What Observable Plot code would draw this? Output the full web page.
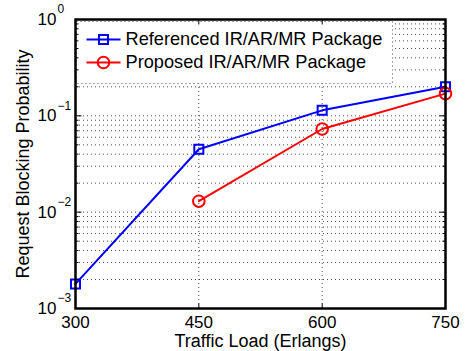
<!DOCTYPE html>
<html><head><meta charset="utf-8">
<script src="https://cdn.jsdelivr.net/npm/d3@7"></script>
<script src="https://cdn.jsdelivr.net/npm/@observablehq/plot@0.6"></script>
<style>body{margin:0;background:#fff;}</style>
</head><body><div id="chart"></div>
<script>
const loads = [300, 450, 600, 750];
const referenced = [0.0018, 0.045, 0.114, 0.20];
const proposedLoads = [450, 600, 750];
const proposed = [0.013, 0.073, 0.17];
const xTicks = [300, 450, 600, 750];
const xGrid = [450, 600];
const yMajor = [1e-3, 1e-2, 1e-1, 1];
const yExponents = ["\u22123", "\u22122", "\u22121", "0"];
const seriesNames = ["Referenced IR/AR/MR Package", "Proposed IR/AR/MR Package"];
const colors = ["#0000ff", "#ff0000"];
const symbols = ["square", "circle"];
const symbolR = [5.1, 5.8];
const xLabel = "Traffic Load (Erlangs)";
const yLabel = "Request Blocking Probability";

const refData = loads.map((x, i) => ({x, y: referenced[i]}));
const propData = proposedLoads.map((x, i) => ({x, y: proposed[i]}));
const yAll = d3.scaleLog().domain([1e-3, 1]).ticks();
const yMinor = yAll.filter(v => !yMajor.some(m => Math.abs(m - v) / m < 1e-9));

const seg = (dx, dy) => ({draw(ctx) { ctx.moveTo(0, 0); ctx.lineTo(dx, dy); }});
const box = (x0, y0, w, h) => ({draw(ctx) { ctx.rect(x0, y0, w, h); }});
const font = "'Liberation Sans', Arial, Helvetica, sans-serif";
const gridStyle = {stroke: "#000", strokeOpacity: 0.7, strokeDasharray: "1,3", strokeWidth: 1};

const legendMarks = seriesNames.flatMap((name, i) => {
  const dy = 20 + 23 * i;
  return [
    Plot.dot([name], {frameAnchor: "top-left", dx: 11, dy, symbol: seg(34, 0), stroke: colors[i], strokeWidth: 2}),
    Plot.dot([name], {frameAnchor: "top-left", dx: 28, dy, symbol: symbols[i], r: symbolR[i], stroke: colors[i], strokeWidth: 2, fill: "none"}),
    Plot.text([name], {frameAnchor: "top-left", dx: 50, dy, text: d => d, textAnchor: "start", lineAnchor: "middle", fontSize: 18.2})
  ];
});

const plot = Plot.plot({
  width: 465, height: 351,
  marginLeft: 75, marginRight: 20, marginTop: 19, marginBottom: 43,
  style: {fontFamily: font, fontSize: "17px", background: "#fff", color: "#000"},
  x: {domain: [300, 750], axis: null},
  y: {type: "log", domain: [1e-3, 1], axis: null},
  marks: [
    Plot.gridY(yAll, gridStyle),
    Plot.gridX(xGrid, gridStyle),
    // legend box
    Plot.dot([0], {frameAnchor: "top-left", symbol: box(1, 2, 316, 62), fill: "#fff", stroke: "#000", strokeOpacity: 0.7, strokeDasharray: "1,3", strokeWidth: 1}),
    // data
    Plot.line(refData, {x: "x", y: "y", stroke: colors[0], strokeWidth: 2}),
    Plot.dot(refData, {x: "x", y: "y", symbol: symbols[0], r: symbolR[0], stroke: colors[0], strokeWidth: 2, fill: "none"}),
    Plot.line(propData, {x: "x", y: "y", stroke: colors[1], strokeWidth: 2}),
    Plot.dot(propData, {x: "x", y: "y", symbol: symbols[1], r: symbolR[1], stroke: colors[1], strokeWidth: 2, fill: "none"}),
    // ticks (inside)
    Plot.dot(yMajor, {y: d => d, frameAnchor: "left", symbol: seg(6, 0), stroke: "#000", strokeWidth: 1}),
    Plot.dot(yMajor, {y: d => d, frameAnchor: "right", symbol: seg(-6, 0), stroke: "#000", strokeWidth: 1}),
    Plot.dot(yMinor, {y: d => d, frameAnchor: "left", symbol: seg(3, 0), stroke: "#000", strokeWidth: 1}),
    Plot.dot(yMinor, {y: d => d, frameAnchor: "right", symbol: seg(-3, 0), stroke: "#000", strokeWidth: 1}),
    Plot.dot(xTicks, {x: d => d, frameAnchor: "bottom", symbol: seg(0, -5), stroke: "#000", strokeWidth: 1}),
    Plot.dot(xTicks, {x: d => d, frameAnchor: "top", symbol: seg(0, 5), stroke: "#000", strokeWidth: 1}),
    Plot.frame({stroke: "#000", strokeWidth: 2.5}),
    ...legendMarks,
    // tick labels
    Plot.text(yMajor, {y: d => d, frameAnchor: "left", text: () => "10", textAnchor: "end", lineAnchor: "middle", dx: -19, fontSize: 17}),
    Plot.text(yMajor, {y: d => d, frameAnchor: "left", text: (d, i) => yExponents[i], textAnchor: "start", lineAnchor: "middle", dx: -18, dy: -10, fontSize: 12}),
    Plot.text(xTicks, {x: d => d, frameAnchor: "bottom", text: d => String(d), textAnchor: "middle", lineAnchor: "middle", dy: 14, fontSize: 17}),
    Plot.text([xLabel], {frameAnchor: "bottom", text: d => d, textAnchor: "middle", lineAnchor: "middle", dy: 33, fontSize: 18}),
    Plot.text([yLabel], {frameAnchor: "left", text: d => d, textAnchor: "middle", lineAnchor: "middle", rotate: -90, dx: -52, fontSize: 18})
  ]
});
document.getElementById("chart").appendChild(plot);
</script>
</body></html>
